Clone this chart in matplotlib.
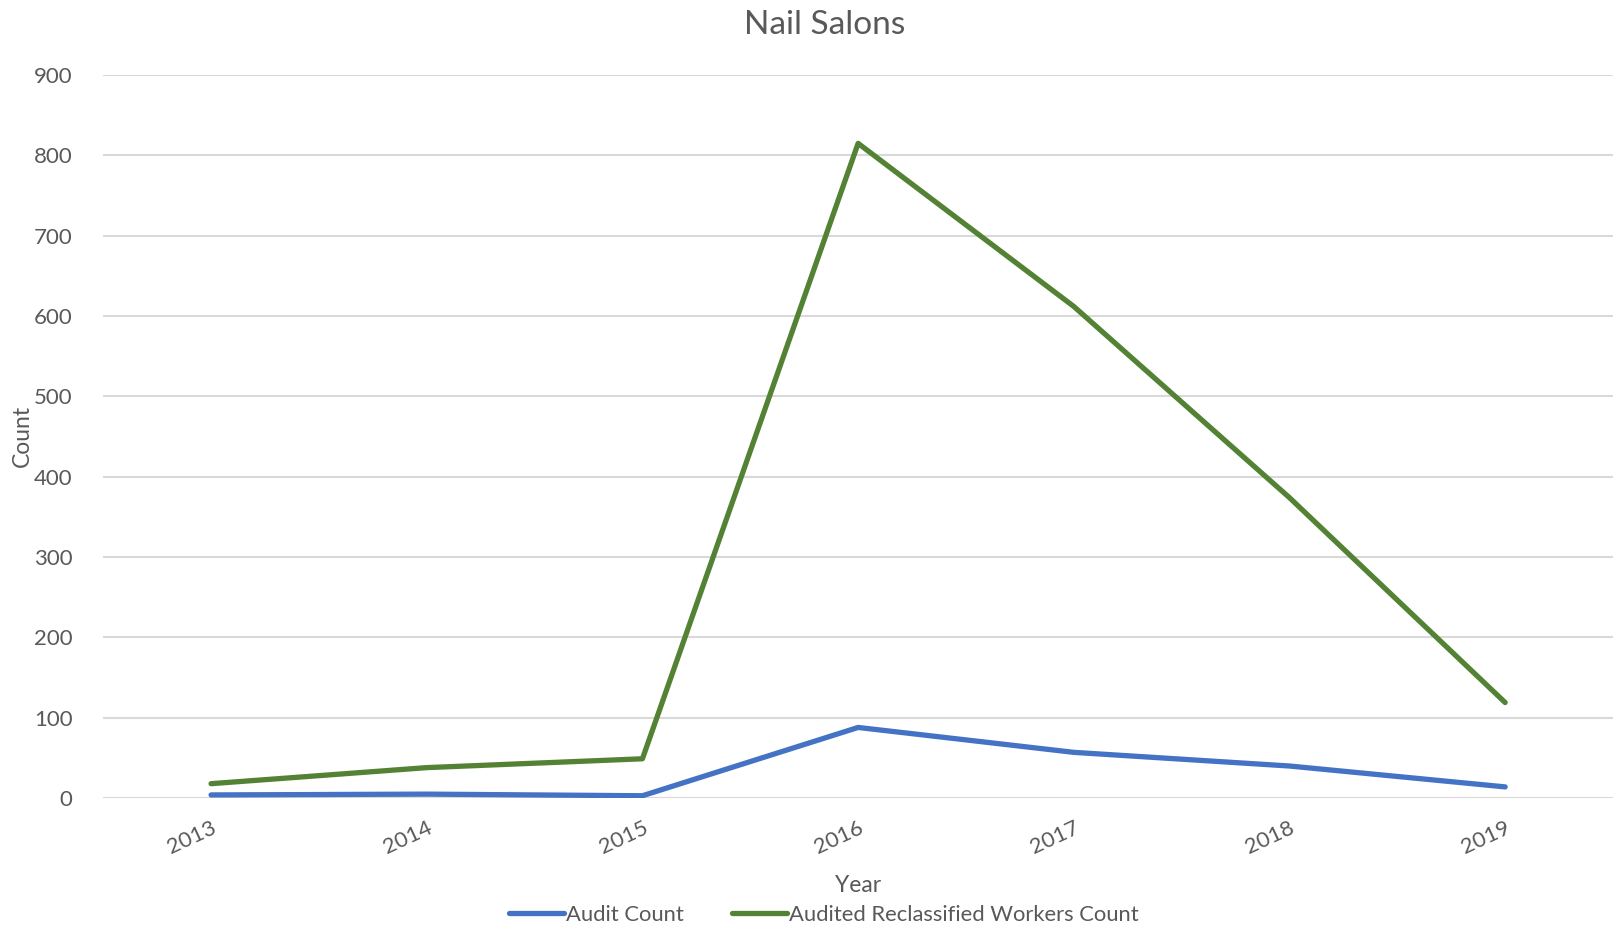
import matplotlib
matplotlib.use("Agg")
import matplotlib.pyplot as plt

years = ["2013", "2014", "2015", "2016", "2017", "2018", "2019"]
audit_count = [4, 5, 3, 88, 57, 40, 14]
reclassified_count = [18, 38, 49, 815, 612, 374, 119]

plt.rcParams['font.family'] = ['Lato', 'DejaVu Sans']
txt = '#595959'

fig = plt.figure(figsize=(16.13, 9.27), dpi=100)
ax = fig.add_axes([0.064, 0.139, 0.936, 0.780])

xs = range(len(years))
ax.plot(xs, audit_count, color='#4472C4', lw=3.8, solid_capstyle='round',
        solid_joinstyle='round', label='Audit Count')
ax.plot(xs, reclassified_count, color='#548235', lw=3.8, solid_capstyle='round',
        solid_joinstyle='round', label='Audited Reclassified Workers Count')

ax.set_xlim(-0.5, len(years) - 0.5)
ax.set_ylim(0, 900)
ax.set_yticks(range(0, 901, 100))
ax.set_xticks(list(xs))
ax.set_xticklabels(years, rotation=25, ha='right', rotation_mode='anchor')
ax.tick_params(length=0, colors=txt, labelsize=16)
ax.tick_params(axis='y', pad=22)
ax.tick_params(axis='x', pad=14)
ax.grid(axis='y', color='#D9D9D9', lw=1.5)
ax.set_axisbelow(True)
for s in ax.spines.values():
    s.set_visible(False)

fig.text(0.511, 0.973, 'Nail Salons', color=txt, fontsize=24, ha='center', va='center')
fig.text(0.532, 0.045, 'Year', color=txt, fontsize=16.5, ha='center', va='center')
fig.text(0.014, 0.53, 'Count', color=txt, fontsize=16.5, ha='center', va='center',
         rotation=90)

fig.legend(loc='center', bbox_to_anchor=(0.511, 0.013), ncol=2, frameon=False,
           fontsize=15.8, labelcolor=txt, handlelength=2.5, handletextpad=0.1,
           columnspacing=2.2)

fig.savefig('out.png', dpi=100)
